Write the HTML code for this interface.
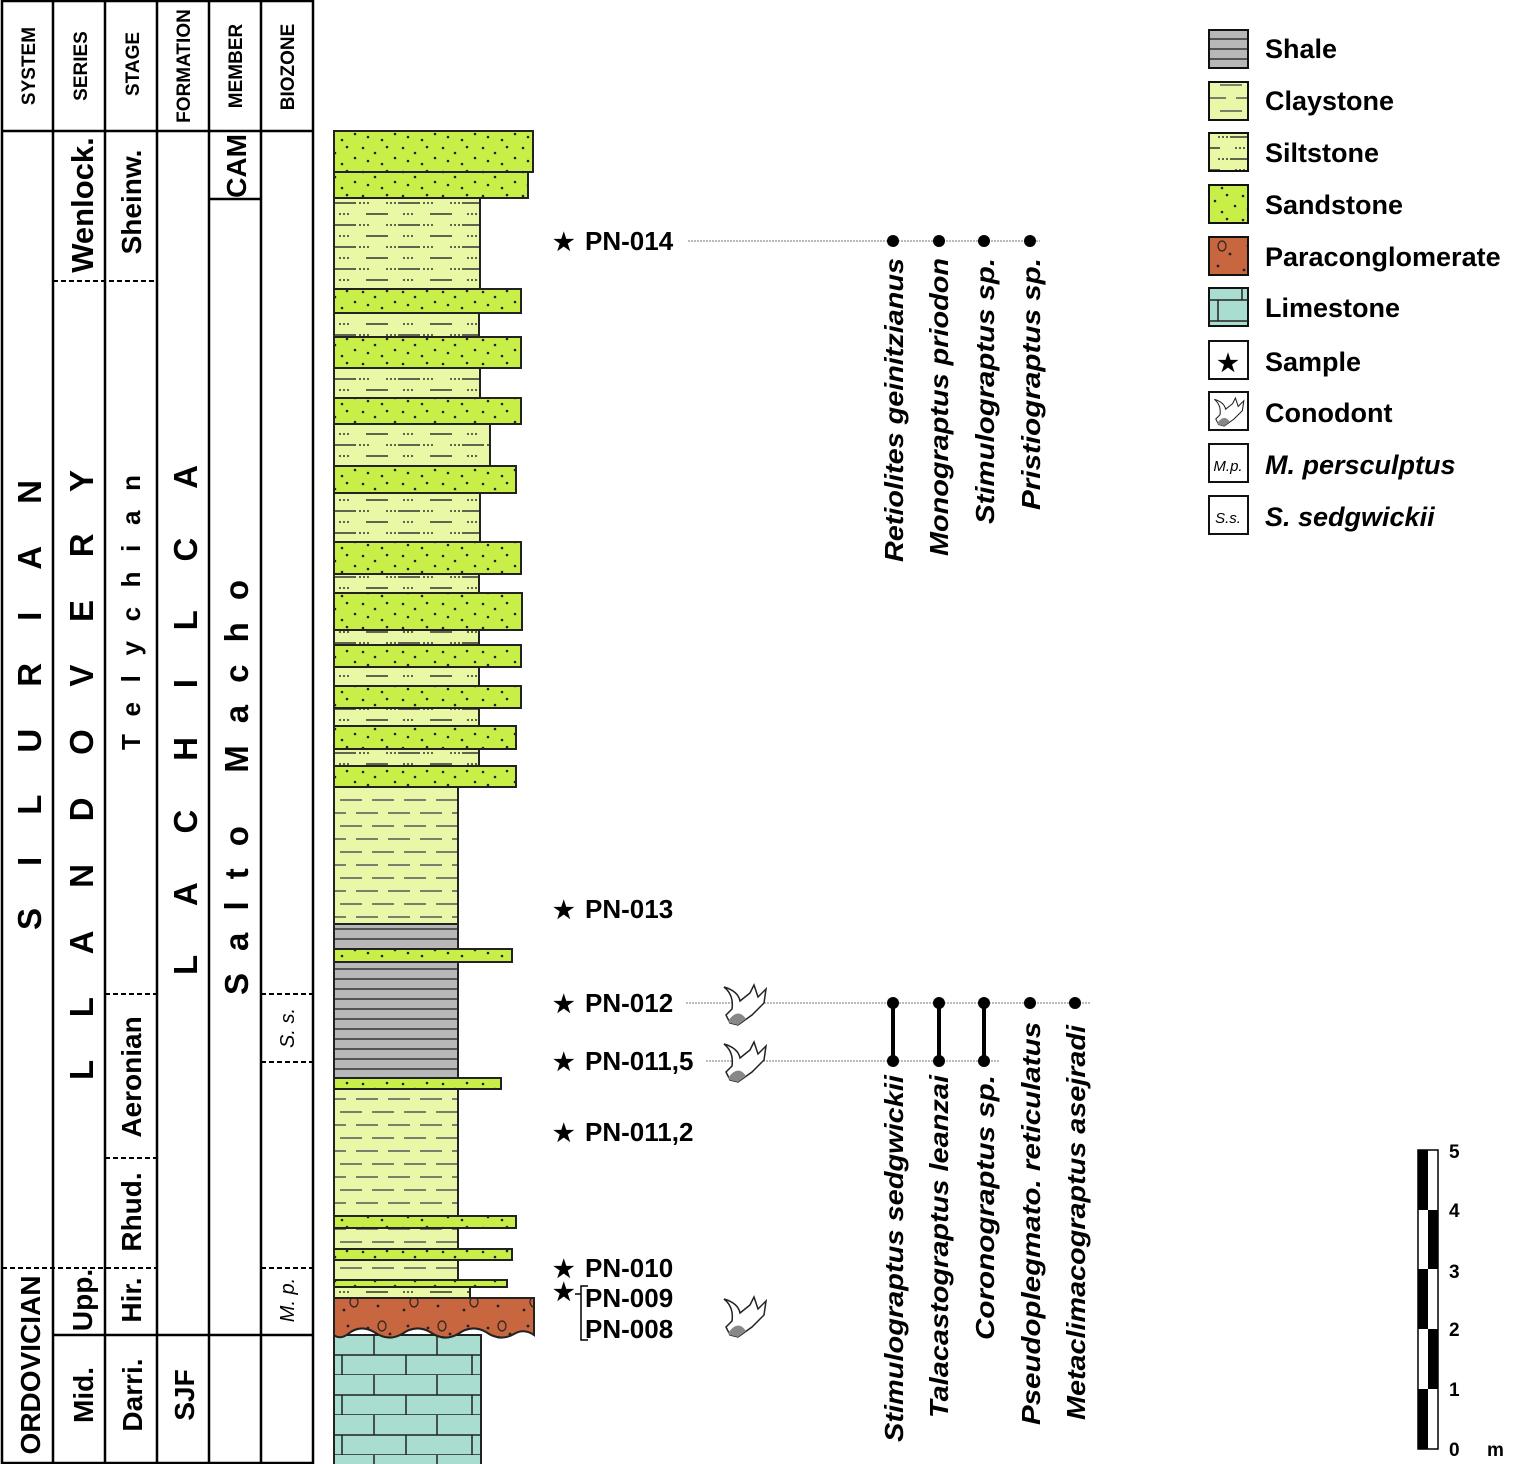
<!DOCTYPE html>
<html><head><meta charset="utf-8"><style>
html,body{margin:0;padding:0;background:#fff}
svg{display:block}
text{font-family:"Liberation Sans",Arial,sans-serif;font-weight:bold;fill:#000}
</style></head><body>
<svg width="1530" height="1464" viewBox="0 0 1530 1464" xmlns="http://www.w3.org/2000/svg">
<defs>
<pattern id="sand" patternUnits="userSpaceOnUse" width="40" height="24">
<rect width="40" height="24" fill="#c8ee48"/>
<g fill="#222"><circle cx="3" cy="4" r="1.3"/><circle cx="15" cy="9" r="1.3"/><circle cx="27" cy="3" r="1.3"/><circle cx="35" cy="14" r="1.3"/><circle cx="8" cy="17" r="1.3"/><circle cx="22" cy="20" r="1.3"/></g>
</pattern>
<pattern id="silt" patternUnits="userSpaceOnUse" width="64" height="22">
<rect width="64" height="22" fill="#e8f8a4"/>
<g stroke="#333" stroke-width="1.5"><line x1="14" y1="5" x2="36" y2="5"/><line x1="46" y1="16" x2="64" y2="16"/><line x1="0" y1="16" x2="4" y2="16"/></g>
<g fill="#333"><circle cx="3" cy="5" r="1"/><circle cx="7" cy="5" r="1"/><circle cx="11" cy="5" r="1"/><circle cx="40" cy="5" r="1"/><circle cx="44" cy="5" r="1"/><circle cx="48" cy="5" r="1"/><circle cx="20" cy="16" r="1"/><circle cx="24" cy="16" r="1"/><circle cx="28" cy="16" r="1"/></g>
</pattern>
<pattern id="clay" patternUnits="userSpaceOnUse" width="64" height="26">
<rect width="64" height="26" fill="#e8f8a8"/>
<g stroke="#555" stroke-width="1.5"><line x1="4" y1="7" x2="26" y2="7"/><line x1="36" y1="7" x2="58" y2="7"/><line x1="20" y1="20" x2="42" y2="20"/><line x1="52" y1="20" x2="64" y2="20"/><line x1="0" y1="20" x2="10" y2="20"/></g>
</pattern>
<pattern id="shale" patternUnits="userSpaceOnUse" width="20" height="10">
<rect width="20" height="10" fill="#b8b8b8"/><line x1="0" y1="9" x2="20" y2="9" stroke="#333" stroke-width="1.5"/>
</pattern>
<pattern id="lime" patternUnits="userSpaceOnUse" x="334" y="1335" width="130" height="40">
<rect width="130" height="40" fill="#a8ddd0"/>
<g stroke="#222" stroke-width="1.5"><line x1="0" y1="20" x2="130" y2="20"/><line x1="0" y1="40" x2="130" y2="40"/><line x1="40" y1="0" x2="40" y2="20"/><line x1="103" y1="0" x2="103" y2="20"/><line x1="8" y1="20" x2="8" y2="40"/><line x1="72" y1="20" x2="72" y2="40"/></g>
</pattern>
<pattern id="cong" patternUnits="userSpaceOnUse" width="60" height="40">
<rect width="60" height="40" fill="#c8673f"/>
<g fill="#222"><circle cx="8" cy="8" r="1.4"/><circle cx="30" cy="14" r="1.4"/><circle cx="48" cy="6" r="1.4"/><circle cx="18" cy="26" r="1.4"/><circle cx="44" cy="30" r="1.4"/></g>
<g fill="none" stroke="#222" stroke-width="1.2"><ellipse cx="22" cy="6" rx="4" ry="5"/><ellipse cx="54" cy="22" rx="4" ry="5"/></g>
</pattern>
<g id="cono">
<path d="M2,2 Q16,6 18,16 L28,8 L32,0 L36,12 L44,4 L42,18 L30,30 L16,40 L8,38 L4,30 L10,24 Q12,10 2,2 Z" fill="#fff" stroke="#222" stroke-width="1.5"/>
<path d="M6,36 Q16,22 24,34 L16,40 L8,38 Z" fill="#888"/>
</g>
</defs>

<!-- table -->
<g stroke="#000" stroke-width="2.5" fill="none">
<rect x="2" y="1" width="311" height="1462"/>
<line x1="2" y1="131" x2="313" y2="131"/>
<line x1="53" y1="1" x2="53" y2="1463"/>
<line x1="105" y1="1" x2="105" y2="1463"/>
<line x1="157" y1="1" x2="157" y2="1463"/>
<line x1="209" y1="1" x2="209" y2="1463"/>
<line x1="261" y1="1" x2="261" y2="1463"/>
<line x1="209" y1="199" x2="261" y2="199"/>
<line x1="53" y1="1335" x2="313" y2="1335"/>
</g>
<g stroke="#000" stroke-width="2" stroke-dasharray="5,3" fill="none">
<line x1="53" y1="281" x2="157" y2="281"/>
<line x1="105" y1="994" x2="157" y2="994"/>
<line x1="261" y1="994" x2="313" y2="994"/>
<line x1="261" y1="1062" x2="313" y2="1062"/>
<line x1="105" y1="1158" x2="157" y2="1158"/>
<line x1="2" y1="1268" x2="157" y2="1268"/>
<line x1="261" y1="1268" x2="313" y2="1268"/>
</g>
<g font-size="19">
<text transform="translate(35,66) rotate(-90)" text-anchor="middle">SYSTEM</text>
<text transform="translate(87,66) rotate(-90)" text-anchor="middle">SERIES</text>
<text transform="translate(139,64) rotate(-90)" text-anchor="middle">STAGE</text>
<text transform="translate(190,66) rotate(-90)" text-anchor="middle">FORMATION</text>
<text transform="translate(242,66) rotate(-90)" text-anchor="middle">MEMBER</text>
<text transform="translate(294,67) rotate(-90)" text-anchor="middle">BIOZONE</text>
</g>
<g font-size="33">
<text transform="translate(41,930) rotate(-90)" textLength="450" lengthAdjust="spacing">SILURIAN</text>
<text transform="translate(93,1080) rotate(-90)" textLength="610" lengthAdjust="spacing">LLANDOVERY</text>
<text transform="translate(197,975) rotate(-90)" textLength="510" lengthAdjust="spacing">LACHILCA</text>
<text transform="translate(248,995) rotate(-90)" textLength="415" lengthAdjust="spacing">Salto Macho</text>
<text transform="translate(140,750) rotate(-90)" textLength="275" lengthAdjust="spacing" font-size="26">Telychian</text>
</g>
<g font-size="28">
<text transform="translate(40,1365) rotate(-90)" text-anchor="middle">ORDOVICIAN</text>
<text transform="translate(93,205) rotate(-90)" text-anchor="middle" font-size="31">Wenlock.</text>
<text transform="translate(92,1300) rotate(-90)" text-anchor="middle">Upp.</text>
<text transform="translate(93,1395) rotate(-90)" text-anchor="middle">Mid.</text>
<text transform="translate(141,202) rotate(-90)" text-anchor="middle">Sheinw.</text>
<text transform="translate(141,1077) rotate(-90)" text-anchor="middle">Aeronian</text>
<text transform="translate(141,1212) rotate(-90)" text-anchor="middle">Rhud.</text>
<text transform="translate(141,1300) rotate(-90)" text-anchor="middle">Hir.</text>
<text transform="translate(142,1395) rotate(-90)" text-anchor="middle">Darri.</text>
<text transform="translate(194,1395) rotate(-90)" text-anchor="middle">SJF</text>
<text transform="translate(246,166) rotate(-90)" text-anchor="middle">CAM</text>
</g>
<g font-size="20" font-style="italic">
<text transform="translate(294,1028) rotate(-90)" text-anchor="middle" style="font-weight:normal">S. s.</text>
<text transform="translate(294,1300) rotate(-90)" text-anchor="middle" style="font-weight:normal">M. p.</text>
</g>

<!-- column -->
<g stroke="#222" stroke-width="2">
<rect x="334" y="131" width="199" height="41" fill="url(#sand)"/>
<rect x="334" y="172" width="194" height="26" fill="url(#sand)"/>
<rect x="334" y="198" width="146" height="91" fill="url(#silt)"/>
<rect x="334" y="289" width="187" height="24" fill="url(#sand)"/>
<rect x="334" y="313" width="145" height="24" fill="url(#silt)"/>
<rect x="334" y="337" width="187" height="31" fill="url(#sand)"/>
<rect x="334" y="368" width="146" height="30" fill="url(#silt)"/>
<rect x="334" y="398" width="187" height="26" fill="url(#sand)"/>
<rect x="334" y="424" width="156" height="42" fill="url(#silt)"/>
<rect x="334" y="466" width="182" height="27" fill="url(#sand)"/>
<rect x="334" y="493" width="146" height="49" fill="url(#silt)"/>
<rect x="334" y="542" width="187" height="32" fill="url(#sand)"/>
<rect x="334" y="574" width="145" height="19" fill="url(#silt)"/>
<rect x="334" y="593" width="188" height="37" fill="url(#sand)"/>
<rect x="334" y="630" width="145" height="15" fill="url(#silt)"/>
<rect x="334" y="645" width="187" height="22" fill="url(#sand)"/>
<rect x="334" y="667" width="145" height="19" fill="url(#silt)"/>
<rect x="334" y="686" width="187" height="22" fill="url(#sand)"/>
<rect x="334" y="708" width="145" height="18" fill="url(#silt)"/>
<rect x="334" y="726" width="182" height="23" fill="url(#sand)"/>
<rect x="334" y="749" width="145" height="17" fill="url(#silt)"/>
<rect x="334" y="766" width="182" height="21" fill="url(#sand)"/>
<rect x="334" y="787" width="124" height="137" fill="url(#clay)"/>
<rect x="334" y="924" width="124" height="25" fill="url(#shale)"/>
<rect x="334" y="949" width="178" height="13" fill="url(#sand)"/>
<rect x="334" y="962" width="124" height="116" fill="url(#shale)"/>
<rect x="334" y="1078" width="167" height="11" fill="url(#sand)"/>
<rect x="334" y="1089" width="124" height="127" fill="url(#clay)"/>
<rect x="334" y="1216" width="182" height="12" fill="url(#sand)"/>
<rect x="334" y="1228" width="124" height="21" fill="url(#clay)"/>
<rect x="334" y="1249" width="178" height="11" fill="url(#sand)"/>
<rect x="334" y="1260" width="124" height="20" fill="url(#clay)"/>
<rect x="334" y="1280" width="173" height="7" fill="url(#sand)"/>
<rect x="334" y="1287" width="136" height="11" fill="url(#silt)"/>
<rect x="334" y="1335" width="147" height="130" fill="url(#lime)"/>
<path d="M334,1298 L534,1298 L534,1335 Q524,1328 514,1334 Q500,1342 486,1332 Q472,1324 458,1334 Q444,1342 430,1332 Q416,1324 402,1334 Q388,1342 374,1332 Q360,1324 348,1334 Q340,1340 334,1335 Z" fill="url(#cong)"/>
</g>

<!-- samples -->
<g font-size="24">
<text x="553" y="250">★</text>
<text x="553" y="918">★</text>
<text x="553" y="1012">★</text>
<text x="553" y="1070">★</text>
<text x="553" y="1141">★</text>
<text x="553" y="1277">★</text>
<text x="553" y="1300">★</text>
</g>
<g font-size="26">
<text x="585" y="250">PN-014</text>
<text x="585" y="918">PN-013</text>
<text x="585" y="1012">PN-012</text>
<text x="585" y="1070">PN-011,5</text>
<text x="585" y="1141">PN-011,2</text>
<text x="585" y="1277">PN-010</text>
<text x="585" y="1307">PN-009</text>
<text x="585" y="1338">PN-008</text>
</g>
<path d="M575,1294 L581,1294 M588,1286 L581,1286 L581,1340 L588,1340" stroke="#000" stroke-width="1.5" fill="none"/>
<g stroke="#777" stroke-width="1" stroke-dasharray="2,1">
<line x1="688" y1="241" x2="1040" y2="241"/>
<line x1="686" y1="1003" x2="1090" y2="1003"/>
<line x1="706" y1="1061" x2="1000" y2="1061"/>
</g>
<use href="#cono" x="722" y="985"/>
<use href="#cono" x="722" y="1042"/>
<use href="#cono" x="722" y="1297"/>
<g stroke="#000" stroke-width="4"><line x1="893" y1="1003" x2="893" y2="1061"/><line x1="939" y1="1003" x2="939" y2="1061"/><line x1="984" y1="1003" x2="984" y2="1061"/></g>
<g fill="#000">
<circle cx="893" cy="241" r="6"/><circle cx="939" cy="241" r="6"/><circle cx="984" cy="241" r="6"/><circle cx="1030" cy="241" r="6"/>
<circle cx="893" cy="1003" r="6"/><circle cx="939" cy="1003" r="6"/><circle cx="984" cy="1003" r="6"/><circle cx="1030" cy="1003" r="6"/><circle cx="1075" cy="1003" r="6"/>
<circle cx="893" cy="1061" r="6"/><circle cx="939" cy="1061" r="6"/><circle cx="984" cy="1061" r="6"/>
</g>
<g font-size="26" font-style="italic">
<text transform="translate(903,562) rotate(-90)" textLength="304" lengthAdjust="spacingAndGlyphs">Retiolites geinitzianus</text>
<text transform="translate(948,556) rotate(-90)" textLength="298" lengthAdjust="spacingAndGlyphs">Monograptus priodon</text>
<text transform="translate(994,524) rotate(-90)" textLength="266" lengthAdjust="spacingAndGlyphs">Stimulograptus  sp.</text>
<text transform="translate(1040,510) rotate(-90)" textLength="252" lengthAdjust="spacingAndGlyphs">Pristiograptus  sp.</text>
<text transform="translate(903,1442) rotate(-90)" textLength="367" lengthAdjust="spacingAndGlyphs">Stimulograptus sedgwickii</text>
<text transform="translate(948,1418) rotate(-90)" textLength="343" lengthAdjust="spacingAndGlyphs">Talacastograptus leanzai</text>
<text transform="translate(994,1340) rotate(-90)" textLength="265" lengthAdjust="spacingAndGlyphs">Coronograptus  sp.</text>
<text transform="translate(1040,1425) rotate(-90)" textLength="403" lengthAdjust="spacingAndGlyphs">Pseudoplegmato.  reticulatus</text>
<text transform="translate(1085,1420) rotate(-90)" textLength="395" lengthAdjust="spacingAndGlyphs">Metaclimacograptus asejradi</text>
</g>

<!-- legend -->
<g stroke="#111" stroke-width="2">
<rect x="1209" y="30" width="39" height="38" fill="url(#shale)"/>
<rect x="1209" y="82" width="39" height="38" fill="url(#clay)"/>
<rect x="1209" y="133" width="39" height="38" fill="url(#silt)"/>
<rect x="1209" y="185" width="39" height="38" fill="url(#sand)"/>
<rect x="1209" y="237" width="39" height="38" fill="url(#cong)"/>
<rect x="1209" y="288" width="39" height="38" fill="#a8ddd0"/>
<rect x="1209" y="341" width="39" height="38" fill="#fff"/>
<rect x="1209" y="392" width="39" height="38" fill="#fff"/>
<rect x="1209" y="444" width="39" height="38" fill="#fff"/>
<rect x="1209" y="496" width="39" height="38" fill="#fff"/>
</g>
<g stroke="#222" stroke-width="1.5"><line x1="1209" y1="300" x2="1248" y2="300"/><line x1="1209" y1="321" x2="1248" y2="321"/><line x1="1218" y1="300" x2="1218" y2="321"/><line x1="1242" y1="288" x2="1242" y2="300"/></g>
<use href="#cono" transform="translate(1213,398) scale(0.7)"/>
<text x="1228" y="371" font-size="24" text-anchor="middle">★</text>
<text x="1228" y="471" font-size="15" text-anchor="middle" font-style="italic" style="font-weight:normal">M.p.</text>
<text x="1228" y="523" font-size="15" text-anchor="middle" font-style="italic" style="font-weight:normal">S.s.</text>
<g font-size="27">
<text x="1265" y="58">Shale</text>
<text x="1265" y="110">Claystone</text>
<text x="1265" y="162">Siltstone</text>
<text x="1265" y="214">Sandstone</text>
<text x="1265" y="266">Paraconglomerate</text>
<text x="1265" y="317">Limestone</text>
<text x="1265" y="371">Sample</text>
<text x="1265" y="422">Conodont</text>
<text x="1265" y="474" font-style="italic">M. persculptus</text>
<text x="1265" y="526" font-style="italic">S. sedgwickii</text>
</g>

<!-- scale bar -->
<rect x="1418" y="1150" width="20" height="299" fill="#fff" stroke="#000" stroke-width="1.5"/>
<g fill="#000">
<rect x="1418" y="1389" width="10" height="60"/><rect x="1428" y="1329" width="10" height="60"/>
<rect x="1418" y="1269" width="10" height="60"/><rect x="1428" y="1210" width="10" height="59"/>
<rect x="1418" y="1150" width="10" height="60"/>
</g>
<g font-size="19">
<text x="1449" y="1158">5</text><text x="1449" y="1217">4</text><text x="1449" y="1278">3</text>
<text x="1449" y="1336">2</text><text x="1449" y="1396">1</text><text x="1449" y="1456">0</text>
<text x="1487" y="1456">m</text>
</g>
</svg>
</body></html>
